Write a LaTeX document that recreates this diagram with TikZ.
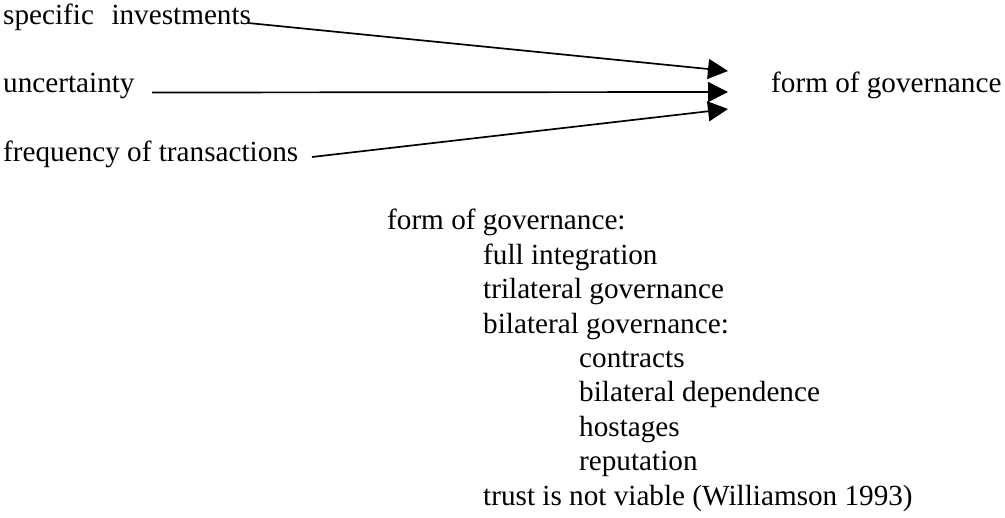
\documentclass[tikz,border=0pt]{standalone}
\usepackage{fontspec}
\setmainfont{Liberation Serif}
\newfontfamily\tms{Liberation Serif}
\usetikzlibrary{arrows.meta}
\begin{document}
\begin{tikzpicture}[x=1pt,y=-1pt,
  txt/.style={anchor=base west,inner sep=0pt,font=\tms\fontsize{29.2}{34.4}\selectfont},
  conn/.style={line width=1.7pt,-{Triangle[length=20pt,width=20pt]}}]
\useasboundingbox (0,0) rectangle (1005,518);
% left factors
\node[txt] (si) at (3,25) {specific\hspace{0.6em}investments};
\node[txt] (un) at (3,93) {uncertainty};
\node[txt] (fr) at (3,162) {frequency of transactions};
\node[txt] (fg) at (771,93) {form of governance};
% connector ends
\coordinate (s1) at (248,23);
\coordinate (s2) at (152,92.5);
\coordinate (s3) at (312,157);
\coordinate (t1) at (728,71);
\coordinate (t2) at (728,92);
\coordinate (t3) at (728,109);
\draw[conn] (s1) -- (t1);
\draw[conn] (s2) -- (t2);
\draw[conn] (s3) -- (t3);
% list
\node[txt] (l0) at (387,230) {form of governance:};
\node[txt] (l1) at (483,264.4) {full integration};
\node[txt] (l2) at (483,298.8) {trilateral governance};
\node[txt] (l3) at (483,333.2) {bilateral governance:};
\node[txt] (l4) at (579,367.6) {contracts};
\node[txt] (l5) at (579,402) {bilateral dependence};
\node[txt] (l6) at (579,436.4) {hostages};
\node[txt] (l7) at (579,470.8) {reputation};
\node[txt] (l8) at (483,505.2) {trust is not viable (Williamson 1993)};
\end{tikzpicture}
\end{document}
